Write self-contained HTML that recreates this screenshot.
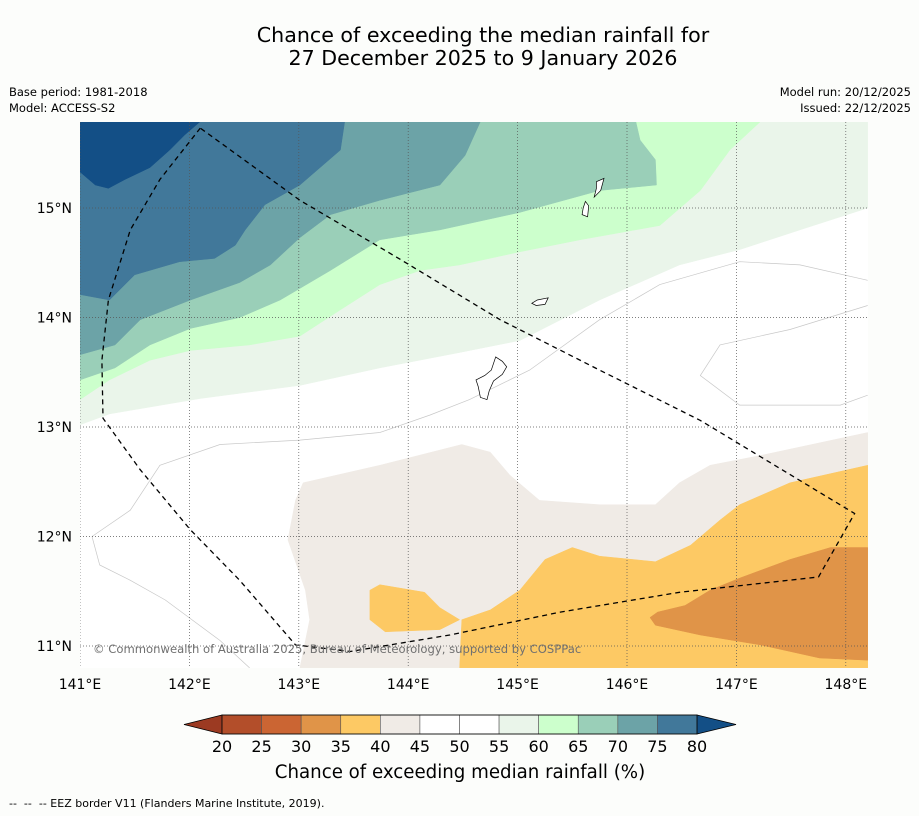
<!DOCTYPE html>
<html><head><meta charset="utf-8">
<style>
body{margin:0;background:#fcfdfb;}
svg{display:block;font-family:"DejaVu Sans","Liberation Sans",sans-serif;}
</style></head>
<body>
<svg id="chart" width="919" height="816" viewBox="0 0 919 816">
<rect x="0" y="0" width="919" height="816" fill="#fcfdfb"/>
<text x="483" y="42" text-anchor="middle" font-size="20.6" fill="#000">Chance of exceeding the median rainfall for</text>
<text x="483" y="65" text-anchor="middle" font-size="20.6" fill="#000">27 December 2025 to 9 January 2026</text>
<text x="9" y="96" font-size="11.5">Base period: 1981-2018</text>
<text x="9" y="112" font-size="11.5">Model: ACCESS-S2</text>
<text x="911" y="96" font-size="11.5" text-anchor="end">Model run: 20/12/2025</text>
<text x="911" y="112" font-size="11.5" text-anchor="end">Issued: 22/12/2025</text>
<defs><clipPath id="mapclip"><rect x="80" y="122" width="788" height="546"/></clipPath></defs>
<g id="map" clip-path="url(#mapclip)">
<rect x="80" y="122" width="788" height="546" fill="#ffffff"/>
</g>
<g id="overlay"></g>
<g id="cbar"></g>
<text x="460" y="778" text-anchor="middle" font-size="18.2">Chance of exceeding median rainfall (%)</text>
<text x="9" y="807" font-size="11" xml:space="preserve" style="white-space:pre">--  --  -- EEZ border V11 (Flanders Marine Institute, 2019).</text>
</svg>
<script>
const lonTicks=[141,142,143,144,145,146,147,148];
const latTicks=[11,12,13,14,15];
const levels=[20,25,30,35,40,45,50,55,60,65,70,75,80];
const levelColors=["#b34e2a","#cb6533","#e09448","#fdc964","#f0ebe6","#ffffff","#ffffff","#eaf5ea","#ccffcc","#9acfb8","#6ca3a7","#41789a"];
const underColor="#9c3a22", overColor="#134f86";
const wet55=[[141,13.02],[141.27,13.12],[142.10,13.26],[143.01,13.38],[143.74,13.54],[144.47,13.68],[145.02,13.79],[145.75,14.16],[146.48,14.48],[147.03,14.62],[147.58,14.80],[148.2,15.0],[148.2,15.79],[141,15.79]];
const wet60=[[141,13.25],[141.27,13.43],[141.64,13.61],[142.01,13.70],[142.55,13.75],[143.01,13.83],[143.38,14.07],[143.74,14.30],[144.11,14.43],[144.47,14.48],[145.02,14.60],[145.57,14.71],[146.30,14.84],[146.67,15.16],[146.94,15.53],[147.22,15.79],[141,15.79]];
const wet65=[[141,13.43],[141.32,13.54],[141.64,13.75],[142.01,13.90],[142.46,14.0],[142.83,14.16],[143.29,14.43],[143.74,14.71],[144.29,14.80],[145.02,14.96],[145.75,15.16],[146.27,15.21],[146.26,15.44],[146.12,15.62],[146.08,15.79],[141,15.79]];
const wet70=[[141,13.66],[141.32,13.75],[141.55,13.98],[142.01,14.16],[142.46,14.32],[142.74,14.48],[143.01,14.73],[143.29,14.94],[143.74,15.07],[144.29,15.21],[144.52,15.48],[144.66,15.79],[141,15.79]];
const wet75=[[141,14.21],[141.27,14.16],[141.50,14.39],[141.91,14.51],[142.23,14.54],[142.42,14.66],[142.51,14.80],[142.69,15.03],[143.01,15.21],[143.38,15.53],[143.42,15.79],[141,15.79]];
const wet80=[[141,15.33],[141.14,15.21],[141.26,15.18],[141.41,15.26],[141.64,15.37],[141.82,15.53],[141.96,15.67],[142.10,15.79],[141,15.79]];
const dry40=[[143.04,12.49],[143.74,12.65],[144.49,12.84],[144.75,12.77],[144.93,12.56],[145.20,12.33],[145.75,12.29],[146.26,12.29],[146.48,12.49],[146.76,12.65],[147.22,12.74],[148.2,12.95],[148.2,10.8],[143.01,10.8],[143.10,11.24],[143.06,11.51],[142.90,11.97],[142.97,12.33]];
const dry35=[[144.47,10.8],[144.49,11.24],[144.75,11.33],[145.02,11.51],[145.25,11.79],[145.50,11.90],[145.75,11.82],[146.26,11.77],[146.58,11.92],[146.85,12.15],[147.03,12.29],[147.49,12.49],[148.2,12.65],[148.2,10.8]];
const dry35b=[[143.65,11.51],[143.74,11.56],[144.15,11.49],[144.29,11.35],[144.47,11.24],[144.29,11.15],[143.79,11.13],[143.65,11.24]];
const dry30=[[146.21,11.26],[146.28,11.31],[146.53,11.37],[146.76,11.51],[147.03,11.62],[147.49,11.79],[147.86,11.90],[148.2,11.90],[148.2,10.87],[147.76,10.89],[147.22,11.01],[146.67,11.10],[146.26,11.19]];
const line1=[[141.11,12.0],[141.46,12.24],[141.73,12.65],[142.28,12.84],[143.01,12.88],[143.74,12.95],[144.20,13.11],[144.56,13.25],[145.11,13.52],[145.75,13.98],[146.30,14.30],[147.03,14.51],[147.58,14.48],[148.2,14.34]];
const line2=[[148.2,13.29],[147.95,13.20],[147.03,13.20],[146.67,13.47],[146.85,13.75],[147.49,13.89],[148.2,14.11]];
const line3=[[141.11,12.0],[141.18,11.74],[141.46,11.60],[141.78,11.42],[142.28,11.05],[142.55,10.80]];
const eez=[[142.10,15.73],[141.73,15.26],[141.46,14.80],[141.26,14.16],[141.20,13.61],[141.21,13.08],[141.55,12.61],[142.01,12.06],[142.46,11.60],[142.97,11.01],[143.47,10.95],[144.38,11.10],[145.39,11.31],[146.48,11.49],[147.75,11.63],[148.08,12.21],[146.67,13.06],[145.75,13.52],[144.84,13.98],[143.93,14.53],[143.01,15.07],[142.10,15.73]];
const guam=[[144.80,13.64],[144.86,13.60],[144.90,13.55],[144.86,13.48],[144.78,13.42],[144.74,13.33],[144.72,13.25],[144.66,13.27],[144.64,13.37],[144.62,13.43],[144.70,13.47],[144.76,13.52]];
const rota=[[145.13,14.13],[145.18,14.16],[145.28,14.18],[145.25,14.12],[145.17,14.11]];
const tinian=[[145.62,15.06],[145.65,15.02],[145.64,14.92],[145.59,14.94],[145.60,15.00]];
const saipan=[[145.72,15.24],[145.79,15.27],[145.76,15.16],[145.70,15.10],[145.72,15.18]];

const NS="http://www.w3.org/2000/svg";
const X=lon=>80+(lon-141)*109.4;
const Y=lat=>208-(lat-15)*109.5;
function pts(a){return a.map(p=>X(p[0]).toFixed(1)+","+Y(p[1]).toFixed(1)).join(" ");}
function mk(tag,attrs,parent){const e=document.createElementNS(NS,tag);for(const k in attrs)e.setAttribute(k,attrs[k]);parent.appendChild(e);return e;}
const map=document.getElementById("map");
const ov=document.getElementById("overlay");
function poly(a,fill,name,closed){
  const e=mk(closed?"polygon":"polyline",{points:pts(a),fill:fill,stroke:closed?fill:"#c8c8c8","stroke-width":closed?0.5:0.7},map);
  
  
  return e;
}
poly(wet55,levelColors[7],"contour-55-60",true);
poly(wet60,levelColors[8],"contour-60-65",true);
poly(wet65,levelColors[9],"contour-65-70",true);
poly(wet70,levelColors[10],"contour-70-75",true);
poly(wet75,levelColors[11],"contour-75-80",true);
poly(wet80,overColor,"contour-above-80",true);
poly(dry40,levelColors[4],"contour-40-45",true);
poly(dry35,levelColors[3],"contour-35-40",true);
poly(dry35b,levelColors[3],"contour-35-40-patch",true);
poly(dry30,levelColors[2],"contour-30-35",true);
poly(line1,"none","contour-line-50a",false);
poly(line2,"none","contour-line-50b",false);
poly(line3,"none","contour-line-50c",false);
lonTicks.forEach(l=>{
  const e=mk("line",{x1:X(l),x2:X(l),y1:122,y2:668,stroke:"#555","stroke-width":0.7,"stroke-dasharray":"1,2"},map);
  
  
});
latTicks.forEach(l=>{
  const e=mk("line",{x1:80,x2:868,y1:Y(l),y2:Y(l),stroke:"#555","stroke-width":0.7,"stroke-dasharray":"1,2"},map);
  
  
});
[guam,rota,tinian,saipan].forEach((isl,i)=>{
  const e=mk("polygon",{points:pts(isl),fill:"#fff",stroke:"#000","stroke-width":0.7},map);
  
  
});
const ez=mk("polyline",{points:pts(eez),fill:"none",stroke:"#000","stroke-width":1.3,"stroke-dasharray":"5,4"},map);


const cp=mk("text",{x:93,y:653,"font-size":11.6,fill:"#707070"},map);


cp.textContent="© Commonwealth of Australia 2025, Bureau of Meteorology, supported by COSPPac";
lonTicks.forEach(l=>{
  const t=mk("text",{x:X(l),y:689,"text-anchor":"middle","font-size":14},ov);
  
  
  t.textContent=l+"°E";
});
latTicks.forEach(l=>{
  const t=mk("text",{x:72,y:Y(l)+5,"text-anchor":"end","font-size":14},ov);
  
  
  t.textContent=l+"°N";
});
const cb=document.getElementById("cbar");
const cx0=222,cx1=697,cy0=715,cy1=734;
const cX=v=>cx0+(v-levels[0])/(levels[levels.length-1]-levels[0])*(cx1-cx0);
const lt=mk("polygon",{points:`${cx0},${cy0} ${cx0},${cy1} 184,${(cy0+cy1)/2}`,fill:underColor,stroke:"#000","stroke-width":0.8},cb);


const rt=mk("polygon",{points:`${cx1},${cy0} ${cx1},${cy1} 736,${(cy0+cy1)/2}`,fill:overColor,stroke:"#000","stroke-width":0.8},cb);


levelColors.forEach((c,i)=>{
  const r=mk("rect",{x:cX(levels[i]),y:cy0,width:cX(levels[i+1])-cX(levels[i]),height:cy1-cy0,fill:c,stroke:"#555","stroke-width":0.6},cb);
  
  
});
const ob=mk("rect",{x:cx0,y:cy0,width:cx1-cx0,height:cy1-cy0,fill:"none",stroke:"#000","stroke-width":0.8},cb);


levels.forEach(v=>{
  const t=mk("text",{x:cX(v),y:752,"text-anchor":"middle","font-size":16},cb);
  
  
  t.textContent=v;
});
</script>
</body></html>
